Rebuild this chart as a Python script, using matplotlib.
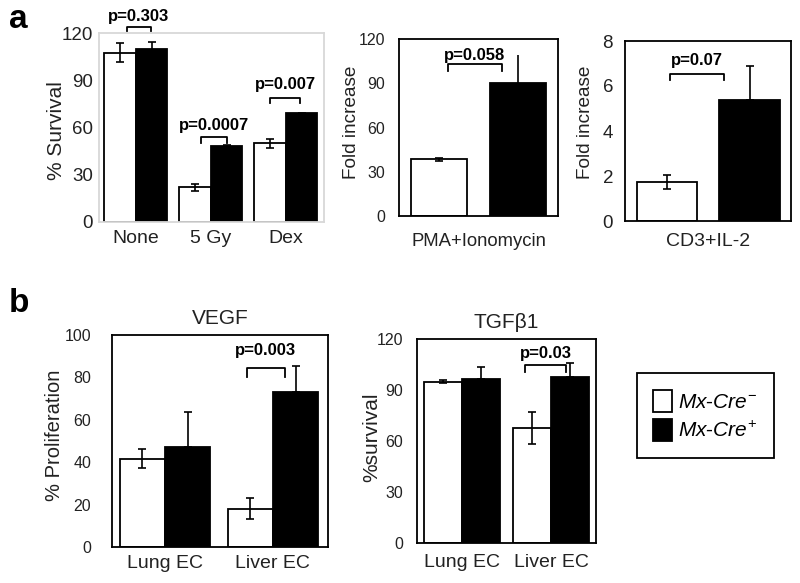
import matplotlib
matplotlib.use("Agg")
import matplotlib.pyplot as plt
from matplotlib.patches import Patch

plt.rcParams["font.family"] = ["Liberation Sans", "DejaVu Sans"]
plt.rcParams["mathtext.fontset"] = "custom"
plt.rcParams["mathtext.it"] = "Liberation Sans:italic"
plt.rcParams["mathtext.rm"] = "Liberation Sans"
plt.rcParams["font.size"] = 12

# Panel a, survival
surv_groups = ["None", "5 Gy", "Dex"]
surv_neg = [107.5, 22, 50]
surv_neg_err = [6, 2, 3]
surv_pos = [110, 48, 69]
surv_pos_err = [4.5, 1, 0.5]
surv_p = ["p=0.303", "p=0.0007", "p=0.007"]

# Panel a, PMA+Ionomycin
pma_vals = [38.5, 90]
pma_err = [1, 19]

# Panel a, CD3+IL-2
cd3_vals = [1.73, 5.4]
cd3_err = [0.32, 1.47]

# Panel b
ec_groups = ["Lung EC", "Liver EC"]
vegf_neg = [41.6, 18]
vegf_neg_err = [4.5, 5]
vegf_pos = [47.2, 73.2]
vegf_pos_err = [16.6, 12.3]
tgf_neg = [95, 67.5]
tgf_neg_err = [0.7, 9.3]
tgf_pos = [96.6, 97.5]
tgf_pos_err = [7, 8.5]

W, H = 800, 583
fig = plt.figure(figsize=(W / 100, H / 100), dpi=100)


def rect(x0, y0, x1, y1):
    return [x0 / W, 1 - y1 / H, (x1 - x0) / W, (y1 - y0) / H]


def style(ax, ysize, ypad, xsize, xpad, framecolor="black"):
    for s in ax.spines.values():
        s.set_color(framecolor)
        s.set_linewidth(1.3)
    ax.tick_params(length=0, colors="#222222")
    ax.tick_params(axis="y", labelsize=ysize, pad=ypad)
    ax.tick_params(axis="x", labelsize=xsize, pad=xpad)


def ylab(text, x, y, size):
    fig.text(x / W, 1 - y / H, text, rotation=90, ha="center", va="center",
             fontsize=size, color="#222222")


def bracket(ax, x0, x1, ytop, ybot, text, ytext):
    ax.plot([x0, x0, x1, x1], [ybot, ytop, ytop, ybot], color="black", lw=1.3,
            clip_on=False, solid_joinstyle="round")
    ax.text((x0 + x1) / 2, ytext, text, ha="center", va="center", fontsize=12,
            fontweight="bold", clip_on=False)


ekw = dict(ecolor="black", elinewidth=1.2, capsize=3, capthick=1.2, linestyle="none")

# a1: survival
ax = fig.add_axes(rect(99, 33, 324, 222))
x = list(range(len(surv_groups)))
w = 0.42
xn = [i - w / 2 for i in x]
xp = [i + w / 2 for i in x]
ax.bar(xn, surv_neg, w, color="white", edgecolor="black", lw=1.3)
ax.bar(xp, surv_pos, w, color="black", edgecolor="black", lw=1.3)
ax.errorbar(xn, surv_neg, yerr=surv_neg_err, **ekw)
ax.errorbar(xp, surv_pos, yerr=surv_pos_err, **ekw)
ax.set_xlim(-0.49, 2.51)
ax.set_ylim(0, 120)
ax.set_yticks([0, 30, 60, 90, 120])
ax.set_xticks(x)
ax.set_xticklabels(surv_groups)
style(ax, 13.5, 4.3, 14, 6, "#d8d8d8")
ylab("% Survival", 56, 131, 15)
bracket(ax, -0.12, 0.2, 124, 121.3, surv_p[0], 130.5)
bracket(ax, 0.87, 1.21, 54, 50, surv_p[1], 61.5)
bracket(ax, 1.79, 2.19, 79, 75.5, surv_p[2], 87)
fig.text(9 / W, 1 - 19 / H, "a", fontsize=24, fontweight="bold", va="center")

# a2: PMA+Ionomycin
ax = fig.add_axes(rect(399, 39, 558, 216))
w = 0.71
ax.bar([0, 1], pma_vals, w, color=["white", "black"], edgecolor="black", lw=1.3)
ax.errorbar([0], pma_vals[:1], yerr=pma_err[:1], **ekw)
ax.errorbar([1], pma_vals[1:], yerr=[[0], pma_err[1:]], ecolor="black",
            elinewidth=1.2, capsize=0, linestyle="none")
ax.set_xlim(-0.506, 1.506)
ax.set_ylim(0, 120)
ax.set_yticks([0, 30, 60, 90, 120])
ax.set_xticks([0.5])
ax.set_xticklabels(["PMA+Ionomycin"])
style(ax, 11.5, 10, 13.3, 12.5)
ylab("Fold increase", 352, 122, 13.7)
bracket(ax, 0.11, 0.8, 102.8, 98.3, "p=0.058", 108.5)

# a3: CD3+IL-2
ax = fig.add_axes(rect(625, 41, 791, 221))
w = 0.73
ax.bar([0, 1], cd3_vals, w, color=["white", "black"], edgecolor="black", lw=1.3)
ax.errorbar([0], cd3_vals[:1], yerr=cd3_err[:1], **ekw)
ax.errorbar([1], cd3_vals[1:], yerr=[[0], cd3_err[1:]], **ekw)
ax.set_xlim(-0.51, 1.503)
ax.set_ylim(0, 8)
ax.set_yticks([0, 2, 4, 6, 8])
ax.set_xticks([0.5])
ax.set_xticklabels(["CD3+IL-2"])
style(ax, 13.5, 8.6, 14, 8.5)
ylab("Fold increase", 585, 122, 13.7)
bracket(ax, 0.04, 0.69, 6.53, 6.27, "p=0.07", 7.12)

# b1: VEGF
ax = fig.add_axes(rect(112, 335, 328, 547))
x = [0, 1]
w = 0.42
xn = [i - w / 2 for i in x]
xp = [i + w / 2 for i in x]
ax.bar(xn, vegf_neg, w, color="white", edgecolor="black", lw=1.3)
ax.bar(xp, vegf_pos, w, color="black", edgecolor="black", lw=1.3)
ax.errorbar(xn, vegf_neg, yerr=vegf_neg_err, **ekw)
ax.errorbar(xp, vegf_pos, yerr=[[0, 0], vegf_pos_err], **ekw)
ax.set_xlim(-0.49, 1.51)
ax.set_ylim(0, 100)
ax.set_yticks([0, 20, 40, 60, 80, 100])
ax.set_xticks(x)
ax.set_xticklabels(ec_groups)
ax.set_title("VEGF", fontsize=15, pad=8, color="#222222")
style(ax, 11.5, 15, 14, 6)
ylab("% Proliferation", 54, 435, 14.5)
bracket(ax, 0.76, 1.11, 84.3, 80.3, "p=0.003", 92.6)
fig.text(9 / W, 1 - 304 / H, "b", fontsize=24, fontweight="bold", va="center")

# b2: TGFb1
ax = fig.add_axes(rect(417, 339, 596, 543))
w = 0.43
xn = [i - w / 2 for i in x]
xp = [i + w / 2 for i in x]
ax.bar(xn, tgf_neg, w, color="white", edgecolor="black", lw=1.3)
ax.bar(xp, tgf_pos, w, color="black", edgecolor="black", lw=1.3)
ax.errorbar(xn, tgf_neg, yerr=tgf_neg_err, **ekw)
ax.errorbar(xp, tgf_pos, yerr=[[0, 0], tgf_pos_err], **ekw)
ax.set_xlim(-0.506, 1.506)
ax.set_ylim(0, 120)
ax.set_yticks([0, 30, 60, 90, 120])
ax.set_xticks(x)
ax.set_xticklabels(ec_groups)
ax.set_title("TGF\u03b21", fontsize=15, pad=8, color="#222222")
style(ax, 11.5, 10, 14, 8)
ylab("%survival", 372, 437, 15)
bracket(ax, 0.71, 1.17, 104.5, 100.8, "p=0.03", 111.6)

# legend
handles = [Patch(facecolor="white", edgecolor="black", lw=1.3),
           Patch(facecolor="black", edgecolor="black", lw=1.3)]
leg = fig.legend(handles, ["$Mx$-$Cre^{-}$", "$Mx$-$Cre^{+}$"], loc="center",
                 bbox_to_anchor=(705.5 / W, 1 - 415.5 / H), fontsize=15,
                 frameon=True, fancybox=False, edgecolor="black", framealpha=1,
                 handlelength=0.9, handleheight=1.3, handletextpad=0.3,
                 borderpad=0.8, labelspacing=0.3)
leg.get_frame().set_linewidth(1.3)

fig.savefig("out.png", dpi=100)
